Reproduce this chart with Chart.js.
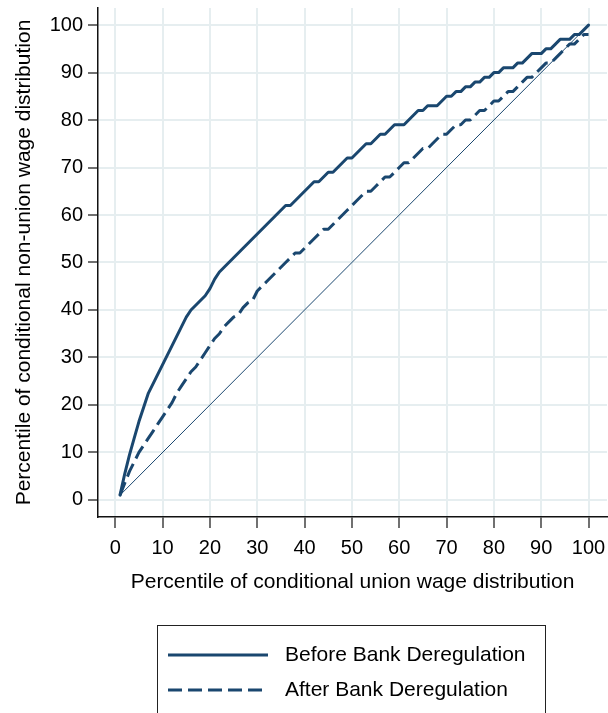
<!DOCTYPE html>
<html>
<head>
<meta charset="utf-8">
<script src="https://cdn.jsdelivr.net/npm/chart.js@4/dist/chart.umd.min.js"></script>
<style>
  html, body { margin: 0; padding: 0; background: #ffffff; }
  canvas { display: block; }
</style>
</head>
<body>
<canvas id="qq" width="608" height="713"></canvas>
<script>
// Percentiles of the conditional union wage distribution
const percentiles = [
  1, 2, 3, 4, 5, 6, 7, 8, 9, 10,
  11, 12, 13, 14, 15, 16, 17, 18, 19, 20,
  21, 22, 23, 24, 25, 26, 27, 28, 29, 30,
  31, 32, 33, 34, 35, 36, 37, 38, 39, 40,
  41, 42, 43, 44, 45, 46, 47, 48, 49, 50,
  51, 52, 53, 54, 55, 56, 57, 58, 59, 60,
  61, 62, 63, 64, 65, 66, 67, 68, 69, 70,
  71, 72, 73, 74, 75, 76, 77, 78, 79, 80,
  81, 82, 83, 84, 85, 86, 87, 88, 89, 90,
  91, 92, 93, 94, 95, 96, 97, 98, 99, 100
];

// Matching percentile of the conditional non-union wage distribution
const beforeDereg = [
  1, 5.5, 9.5, 13, 16.5, 19.5, 22.5, 24.5, 26.5, 28.5,
  30.5, 32.5, 34.5, 36.5, 38.5, 40, 41, 42, 43, 44.5,
  46.5, 48, 49, 50, 51, 52, 53, 54, 55, 56,
  57, 58, 59, 60, 61, 62, 62, 63, 64, 65,
  66, 67, 67, 68, 69, 69, 70, 71, 72, 72,
  73, 74, 75, 75, 76, 77, 77, 78, 79, 79,
  79, 80, 81, 82, 82, 83, 83, 83, 84, 85,
  85, 86, 86, 87, 87, 88, 88, 89, 89, 90,
  90, 91, 91, 91, 92, 92, 93, 94, 94, 94,
  95, 95, 96, 97, 97, 97, 98, 98, 99, 100
];

const afterDereg = [
  1, 3.5, 6, 8, 10, 11.5, 13, 14.5, 16, 17.5,
  19, 20.5, 22.5, 24, 25.5, 27, 28, 29.5, 31, 32.5,
  34, 35, 36.5, 37.5, 38.5, 39, 40.5, 41.5, 42, 44,
  45, 46, 47, 48, 49, 50, 51, 52, 52, 53,
  54, 55, 56, 57, 57, 58, 59, 60, 61, 62,
  63, 64, 65, 65, 66, 67, 68, 68, 69, 70,
  71, 71, 72, 73, 74, 74, 75, 76, 77, 77,
  78, 79, 79, 80, 80, 81, 82, 82, 83, 84,
  84, 85, 86, 86, 87, 88, 89, 89, 90, 91,
  92, 92, 93, 94, 95, 96, 96, 97, 98, 98
];

// 45-degree reference line (equal percentiles)
const diagonalX = [1, 100];
const diagonalY = [1, 100];

const axisTicks = [0, 10, 20, 30, 40, 50, 60, 70, 80, 90, 100];

const seriesNames = ['Before Bank Deregulation', 'After Bank Deregulation'];
const xTitle = 'Percentile of conditional union wage distribution';
const yTitle = 'Percentile of conditional non-union wage distribution';

const FAMILY = '"Liberation Sans", Arial, Helvetica, sans-serif';
const NAVY = '#1a476f';
const GRID = '#e6eef0';
const DASH = [14, 6];
const LINE_W = 3;

const toPoints = (xs, ys) => xs.map((x, i) => ({ x: x, y: ys[i] }));

// Axis titles and the boxed legend underneath the plot
const decor = {
  id: 'decor',
  afterDraw(chart) {
    const { ctx, chartArea } = chart;
    ctx.save();
    ctx.fillStyle = '#000';
    ctx.font = '21px ' + FAMILY;
    ctx.textAlign = 'center';
    ctx.textBaseline = 'middle';
    ctx.fillText(xTitle, (chartArea.left + chartArea.right) / 2, 582);

    ctx.save();
    ctx.translate(24, (chartArea.top + chartArea.bottom) / 2);
    ctx.rotate(-Math.PI / 2);
    ctx.fillText(yTitle, 0, 0);
    ctx.restore();

    // legend box
    ctx.strokeStyle = '#222';
    ctx.lineWidth = 1;
    ctx.strokeRect(157.5, 625.5, 388, 120);

    const rows = [655, 690];
    const dashes = [[], DASH];
    ctx.strokeStyle = NAVY;
    ctx.lineWidth = LINE_W;
    ctx.lineCap = 'butt';
    rows.forEach((ry, i) => {
      ctx.setLineDash(dashes[i]);
      ctx.beginPath();
      ctx.moveTo(168, ry);
      ctx.lineTo(268, ry);
      ctx.stroke();
    });
    ctx.setLineDash([]);
    ctx.textAlign = 'left';
    ctx.fillStyle = '#000';
    rows.forEach((ry, i) => ctx.fillText(seriesNames[i], 285, ry));
    ctx.restore();
  }
};

const tickFont = { family: FAMILY, size: 20 };

new Chart(document.getElementById('qq'), {
  type: 'line',
  data: {
    datasets: [
      {
        label: seriesNames[0],
        data: toPoints(percentiles, beforeDereg),
        borderColor: NAVY, borderWidth: LINE_W,
        pointRadius: 0, tension: 0, borderJoinStyle: 'round', borderCapStyle: 'round'
      },
      {
        label: seriesNames[1],
        data: toPoints(percentiles, afterDereg),
        borderColor: NAVY, borderWidth: LINE_W, borderDash: DASH,
        pointRadius: 0, tension: 0, borderJoinStyle: 'round', borderCapStyle: 'butt'
      },
      {
        label: 'Equality',
        data: toPoints(diagonalX, diagonalY),
        borderColor: NAVY, borderWidth: 1,
        pointRadius: 0, tension: 0
      }
    ]
  },
  options: {
    responsive: false,
    animation: false,
    devicePixelRatio: 1,
    layout: { padding: { top: 8, left: 0, right: 1, bottom: 136 } },
    plugins: { legend: { display: false }, tooltip: { enabled: false } },
    scales: {
      x: {
        type: 'linear',
        min: -3.65,
        max: 103.9,
        afterFit(s) { s.height = 60; s.paddingLeft = 0; s.paddingRight = 0; },
        afterBuildTicks(s) { s.ticks = axisTicks.map(v => ({ value: v })); },
        ticks: { stepSize: 10, includeBounds: false, autoSkip: false, maxRotation: 0,
                 font: tickFont, color: '#000', padding: 8 },
        grid: { color: GRID, lineWidth: 2, tickColor: '#111', tickWidth: 1.2, tickLength: 11 },
        border: { display: true, color: '#111', width: 1.5 }
      },
      y: {
        type: 'linear',
        min: -3.6,
        max: 103.6,
        afterFit(s) { s.width = 98; s.paddingTop = 0; s.paddingBottom = 0; },
        afterBuildTicks(s) { s.ticks = axisTicks.map(v => ({ value: v })); },
        ticks: { stepSize: 10, includeBounds: false, autoSkip: false,
                 font: tickFont, color: '#000', padding: 5 },
        grid: { color: GRID, lineWidth: 2, tickColor: '#111', tickWidth: 1.2, tickLength: 10 },
        border: { display: true, color: '#111', width: 1.5 }
      }
    }
  },
  plugins: [decor]
});
</script>
</body>
</html>
